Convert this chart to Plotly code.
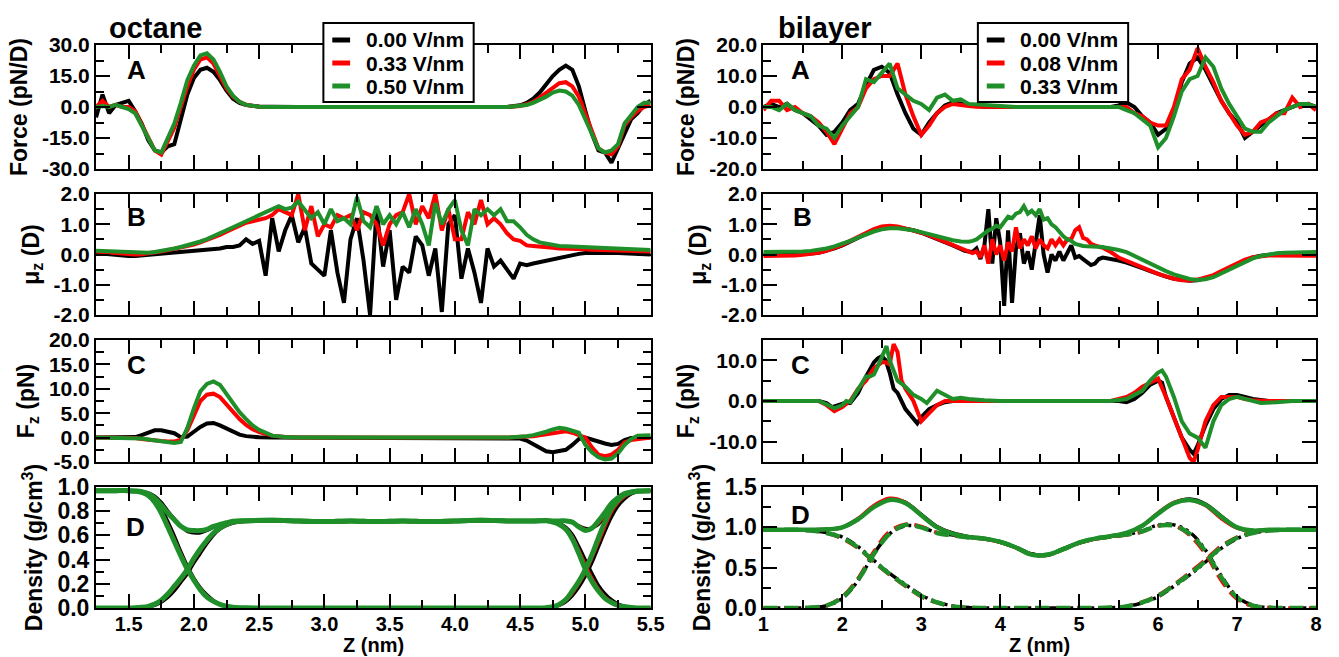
import numpy as np
import plotly.graph_objects as go

# ===================== DATA =====================
# ---- left column: octane ----
zA_L = [1.25,1.30,1.35,1.40,1.45,1.50,1.55,1.60,1.65,1.70,1.75,1.80,1.85,1.90,1.95,2.00,2.05,2.10,2.15,2.20,
        2.25,2.30,2.35,2.40,2.45,2.50,2.60,2.70,2.80,
        4.40,4.45,4.50,4.55,4.60,4.65,4.70,4.75,4.80,4.85,4.90,4.95,5.00,5.05,5.10,5.15,5.20,5.25,5.30,5.35,5.40,5.45,5.50]
forceL_000 = [-5,6,-3,1,2,3,-2,-8,-16,-21,-22,-19,-18,-6,6,14,18,19,17,13,8,4,2,1,0.5,0.2, 0.1,0,0,
              0,0.3,0.8,2,4,7,11,15,18,20,18,10,-2,-13,-21,-22,-27,-20,-12,-6,-3,1,3]
forceL_033 = [0,3,0,1,0,0,-2,-8,-15,-21,-23,-16,-10,0,10,18,23,24,21,15,9,5,2.5,1,0.4,0.1, 0.05,0,0,
              0,0.2,0.5,1.3,2.5,4.5,7,9.5,11.5,12,10,5,-3,-12,-20,-22,-23,-19,-9,-5,-2,0,1]
forceL_050 = [0,0.5,0,1,0,-1,-3,-9,-15,-21,-22,-15,-8,2,13,20,25,26,23,17,10,5.5,2.5,1,0.4,0.1, 0.05,0,0,
              0,0.2,0.4,1,2,3.3,5,7,8,7.5,5.5,1,-6,-14,-20,-22,-21,-18,-8,-4,0,2,2]

fzL_000 = [0,0,0,0,0,0,0.1,0.5,1.0,1.5,1.5,1.2,0.9,0.1,0.2,1.2,2.2,2.9,3.0,2.5,1.8,1.1,0.6,0.3,0.15,0.05, 0,0,0,
           0,0,-0.2,-0.6,-1.3,-2.2,-2.8,-3.0,-2.8,-2.5,-1.5,-0.3,0.0,-0.3,-0.8,-1.2,-1.5,-1.3,-0.5,-0.1,0,0,0]
fzL_033 = [0,0,0,0,0,0,-0.1,-0.3,-0.5,-0.6,-0.7,-0.8,-0.8,-0.5,1.5,4.5,7.5,8.8,9.0,8.3,6.8,5.2,3.8,2.6,1.7,1.1, 0.4,0.1,0,
           0,0,0.1,0.2,0.3,0.5,0.8,1.0,1.2,1.3,1.0,0.5,0.0,-2.0,-3.5,-3.8,-3.5,-2.5,-1.0,-0.5,-0.3,0,0]
fzL_050 = [0,0,0,0,0,0,0,-0.2,-0.4,-0.6,-0.8,-1.0,-1.1,-0.9,2.0,6.0,9.5,11.0,11.5,10.8,9.0,7.0,5.2,3.8,2.5,1.6, 0.4,0.1,0,
           0,0.05,0.1,0.3,0.5,0.8,1.2,1.7,2.0,1.8,1.5,1.0,-1.5,-3.0,-4.0,-4.5,-4.3,-3.2,-1.5,-0.3,0.4,0.5,0.5]

zB_L = np.round(np.linspace(1.25, 5.50, 86), 2)
muL_000 = [0.05,0.03,0.0,-0.03,-0.05,-0.05,-0.05,-0.03,-0.02,0.0,
           0.02,0.05,0.06,0.08,0.1,0.12,0.13,0.15,0.17,0.2,
           0.25,0.25,0.3,0.5,0.35,0.45,-0.7,1.2,0.1,0.8,
           1.3,0.4,0.9,-0.3,-0.5,-0.7,0.8,-0.6,-1.6,0.5,
           1.2,-0.2,-2.0,1.5,-0.4,0.8,-1.5,-0.4,-0.6,0.6,
           0.3,-0.7,0.2,-1.9,1.0,1.3,-0.8,0.2,-0.6,-1.6,
           0.2,-0.4,-0.2,-0.5,-0.8,-0.3,-0.35,-0.3,-0.25,-0.2,
           -0.15,-0.1,-0.05,0.0,0.02,0.05,0.06,0.07,0.07,0.06,
           0.05,0.04,0.03,0.02,0.01,0.0]
muL_033 = [0.1,0.08,0.06,0.04,0.02,0.01,0.0,0.01,0.03,0.06,
           0.1,0.14,0.18,0.23,0.28,0.33,0.4,0.48,0.55,0.65,
           0.75,0.85,0.95,1.05,1.1,1.15,1.2,1.3,1.5,1.4,
           1.3,2.0,0.8,1.6,0.6,1.0,0.9,1.3,1.2,1.3,
           0.8,1.4,1.3,1.0,0.3,1.0,1.3,1.4,2.0,1.0,
           1.6,1.2,2.0,0.8,1.5,0.5,0.5,1.4,1.0,1.8,
           1.0,1.2,1.0,0.7,0.5,0.45,0.3,0.28,0.25,0.23,
           0.22,0.2,0.2,0.2,0.18,0.17,0.16,0.15,0.15,0.14,
           0.13,0.12,0.11,0.1,0.1,0.1]
muL_050 = [0.12,0.11,0.1,0.08,0.07,0.06,0.05,0.05,0.06,0.08,
           0.11,0.15,0.2,0.25,0.3,0.36,0.43,0.51,0.6,0.7,
           0.8,0.9,1.0,1.1,1.2,1.3,1.4,1.5,1.6,1.5,
           1.55,1.75,1.5,1.2,1.4,1.0,1.5,1.1,1.2,1.0,
           1.9,1.1,0.9,1.6,1.0,1.3,1.0,1.4,0.9,1.5,
           1.0,0.3,1.7,1.0,1.5,1.8,0.8,0.3,1.5,1.3,
           1.5,1.3,1.5,1.1,1.1,0.9,0.65,0.5,0.4,0.35,
           0.3,0.28,0.27,0.26,0.25,0.25,0.24,0.23,0.22,0.21,
           0.2,0.19,0.18,0.17,0.16,0.15]

zD_L = [1.25,1.40,1.50,
        1.55,1.60,1.65,1.70,1.75,1.80,1.85,1.90,1.95,2.00,2.05,2.10,2.15,2.20,2.25,2.30,
        2.40,2.60,2.80,3.00,3.20,3.40,3.60,3.80,4.00,4.20,4.40,4.60,
        4.70,4.75,4.80,4.85,4.90,4.95,5.00,5.05,5.10,5.15,5.20,5.25,5.30,5.35,5.40,
        5.50]
waterL_000 = [0.97,0.97,0.97,
              0.967,0.96,0.945,0.905,0.83,0.72,0.6,0.47,0.35,0.25,0.17,0.11,0.065,0.035,0.018,0.008,
              0.002,0,0,0,0,0,0,0,0,0,0,0,
              0.002,0.006,0.02,0.05,0.1,0.17,0.26,0.37,0.5,0.63,0.75,0.84,0.9,0.94,0.96,
              0.97]
octL_000 = [0,0,0,
            0.001,0.003,0.008,0.02,0.045,0.085,0.14,0.21,0.28,0.37,0.45,0.53,0.6,0.65,0.68,0.70,
            0.715,0.72,0.715,0.71,0.715,0.715,0.72,0.71,0.715,0.72,0.715,0.715,
            0.72,0.715,0.70,0.67,0.61,0.51,0.4,0.29,0.19,0.12,0.07,0.035,0.016,0.006,0.002,
            0]
totL_000 = [0.97,0.97,0.97,
            0.968,0.963,0.953,0.925,0.875,0.805,0.74,0.68,0.63,0.62,0.62,0.64,0.665,0.685,0.698,0.708,
            0.717,0.72,0.715,0.71,0.715,0.715,0.72,0.71,0.715,0.72,0.715,0.715,
            0.722,0.721,0.72,0.72,0.71,0.68,0.66,0.66,0.69,0.75,0.82,0.875,0.916,0.946,0.962,
            0.97]
waterL_033 = [0.97,0.97,0.97,
              0.966,0.957,0.935,0.885,0.8,0.69,0.57,0.45,0.335,0.24,0.16,0.1,0.06,0.032,0.016,0.008,
              0.002,0,0,0,0,0,0,0,0,0,0,0,
              0.003,0.008,0.025,0.06,0.12,0.2,0.29,0.41,0.54,0.67,0.79,0.87,0.92,0.95,0.962,
              0.97]
octL_033 = [0,0,0,
            0.002,0.005,0.012,0.028,0.058,0.105,0.165,0.23,0.305,0.395,0.475,0.55,0.61,0.655,0.685,0.705,
            0.715,0.72,0.715,0.71,0.715,0.71,0.715,0.71,0.715,0.72,0.715,0.715,
            0.72,0.712,0.695,0.66,0.59,0.48,0.36,0.25,0.16,0.095,0.053,0.027,0.012,0.005,0.001,
            0]
totL_033 = [0.97,0.97,0.97,
            0.968,0.962,0.947,0.913,0.858,0.795,0.735,0.68,0.64,0.635,0.635,0.65,0.67,0.687,0.701,0.713,
            0.717,0.72,0.715,0.71,0.715,0.71,0.715,0.71,0.715,0.72,0.715,0.715,
            0.723,0.72,0.72,0.72,0.71,0.68,0.65,0.66,0.7,0.765,0.843,0.897,0.932,0.955,0.963,
            0.97]
waterL_050 = [0.97,0.97,0.97,
              0.965,0.955,0.93,0.875,0.785,0.67,0.55,0.43,0.32,0.23,0.15,0.09,0.055,0.03,0.015,0.007,
              0.002,0,0,0,0,0,0,0,0,0,0,0,
              0.003,0.01,0.03,0.07,0.14,0.22,0.32,0.44,0.58,0.71,0.82,0.89,0.935,0.955,0.965,
              0.97]
octL_050 = [0,0,0,
            0.002,0.006,0.014,0.032,0.065,0.115,0.18,0.245,0.32,0.41,0.49,0.56,0.62,0.66,0.69,0.71,
            0.72,0.725,0.72,0.715,0.72,0.715,0.72,0.715,0.72,0.725,0.72,0.72,
            0.72,0.71,0.69,0.65,0.57,0.45,0.32,0.22,0.14,0.08,0.045,0.022,0.01,0.004,0.001,
            0]
totL_050 = [0.97,0.97,0.97,
            0.967,0.961,0.944,0.907,0.85,0.785,0.73,0.675,0.645,0.64,0.64,0.65,0.675,0.69,0.705,0.717,
            0.722,0.725,0.72,0.715,0.72,0.715,0.72,0.715,0.72,0.725,0.72,0.72,
            0.723,0.72,0.72,0.72,0.71,0.67,0.64,0.66,0.72,0.79,0.865,0.912,0.945,0.959,0.966,
            0.97]

# ---- right column: bilayer ----
zA_R = np.round(np.linspace(1.0, 8.0, 71), 2)
forceR_000 = [0,1,0,1,-1,-2,-4,-6,-9,-8,
              -5,-1,1,7,12,13,11,4,-2,-7,
              -9,-5,-2,0.5,1.5,1,0.5,0.3,0.1,0,
              0,0,0,0,0,0,0,0,0,0,
              0,0,0,0,0,0.5,1.5,0,-3,-5,
              -9,-7,-1,8,14,16,12,7,2,-2,
              -5,-10,-8,-6,-4,-2,-1,0,1,1,
              0]
forceR_008 = [-1,2,2,-1,0,-2,-3,-5,-8,-12,
              -7,-2,0,6,9,10,10,14,4,-3,
              -9,-6,-2,0,1,0.5,0.3,0.1,0,0,
              0,0,0,0,0,0,0,0,0,0,
              0,0,0,0,0,0,0,-2,-3,-5,
              -6,-6,0,9,12,19,13,8,2,-2,
              -6,-9,-8,-5,-4,-2,-2,3,0,1,
              -1]
forceR_033 = [0,0,-1,1,-1,-2,-3,-6,-7,-10,
              -6,-3,0,9,8,11,14,6,4,2,
              1,-1,3,4,2,2.5,1,0.8,0.5,0.3,
              0.2,0.1,0,0,0,0,0,0,0,0,
              0,0,0,0,0,0,-1,-2,-4,-6,
              -13,-10,-3,5,9,10,16,13,6,1,
              -3,-7,-8,-8,-5,-3,-1,0,1,1,
              0]

zB_R = np.round(np.concatenate([np.linspace(1.0, 3.5, 26), np.linspace(3.55, 5.40, 38),
                                np.linspace(5.5, 8.0, 26)]), 2)
muR_000 = [0.0,0.0,0.0,0.0,0.0,0.01,0.03,0.06,0.12,0.2,
           0.3,0.42,0.55,0.68,0.8,0.88,0.92,0.9,0.86,0.8,
           0.72,0.62,0.5,0.4,0.3,0.18,
           0.12,0.1,0.08,0.2,-0.15,0.3,1.5,-0.3,1.2,0.4,
           -1.7,0.8,-1.6,0.2,0.7,-0.3,0.1,-0.5,0.3,1.3,
           0.0,-0.6,0.0,-0.2,0.1,-0.2,0.05,0.3,-0.1,-0.05,
           -0.15,-0.25,-0.35,-0.3,-0.15,-0.1,-0.12,-0.15,
           -0.2,-0.27,-0.35,-0.45,-0.55,
           -0.65,-0.73,-0.8,-0.85,-0.87,-0.85,-0.8,-0.72,-0.6,-0.47,
           -0.33,-0.2,-0.1,-0.04,0.0,0.02,0.03,0.03,0.03,0.03,0.03]
muR_008 = [-0.05,-0.05,-0.05,-0.04,-0.03,-0.01,0.02,0.06,0.12,0.21,
           0.32,0.45,0.58,0.72,0.84,0.93,0.95,0.93,0.87,0.8,
           0.72,0.63,0.52,0.42,0.33,0.22,
           0.15,0.08,0.05,0.1,-0.1,0.3,-0.3,0.5,0.0,0.3,
           -0.2,0.4,0.1,0.9,0.2,0.5,0.3,0.6,0.2,0.5,
           0.3,0.2,0.5,0.3,0.5,0.3,0.5,0.5,0.8,0.9,
           0.55,0.5,0.35,0.3,0.27,0.22,0.15,0.08,
           -0.1,-0.2,-0.3,-0.42,-0.53,
           -0.64,-0.73,-0.8,-0.85,-0.86,-0.83,-0.77,-0.68,-0.55,-0.42,
           -0.28,-0.17,-0.09,-0.05,-0.03,-0.03,-0.04,-0.04,-0.04,-0.04,-0.04]
muR_033 = [0.08,0.08,0.08,0.08,0.09,0.1,0.12,0.15,0.2,0.27,
           0.35,0.45,0.56,0.67,0.76,0.83,0.87,0.87,0.84,0.8,
           0.74,0.67,0.6,0.53,0.47,0.43,
           0.42,0.42,0.45,0.5,0.6,0.7,0.8,0.85,0.95,0.9,
           1.1,1.25,1.2,1.35,1.4,1.6,1.35,1.45,1.3,1.5,
           1.15,1.2,1.0,0.9,0.75,0.6,0.5,0.45,0.35,0.3,
           0.28,0.27,0.27,0.27,0.26,0.25,0.22,0.2,
           0.15,0.08,-0.05,-0.18,-0.3,
           -0.42,-0.55,-0.66,-0.75,-0.81,-0.84,-0.82,-0.75,-0.63,-0.5,
           -0.37,-0.24,-0.13,-0.05,0.01,0.04,0.06,0.07,0.08,0.08,0.08]

zC_R_000 = [1.0,1.7,1.8,1.87,1.95,2.03,2.1,2.2,2.3,2.4,2.45,2.5,2.55,2.6,2.65,2.7,
            2.8,2.9,2.95,3.0,3.1,3.2,3.3,3.4,3.6,
            5.5,5.6,5.7,5.8,5.9,6.0,6.05,6.1,
            6.2,6.3,6.4,6.45,6.5,6.6,6.7,6.8,6.9,7.0,7.1,7.2,7.4,8.0]
fzR_000 = [0,0,-0.5,-1.5,-1.0,-0.5,-0.5,2,6,9.5,10.5,11,10,7,3,2,
           -2,-4.5,-5.5,-4,-2,-1,-0.3,0,0,
           0,-0.3,0.5,2,4,5,4.5,1,
           -4,-9,-12,-13,-11,-6,-2,0.5,1.5,1.5,1,0.5,0,0]
zC_R_008 = [1.0,1.7,1.8,1.9,2.0,2.1,2.2,2.3,2.4,2.5,2.55,2.6,2.65,2.7,2.75,2.8,
            2.9,3.0,3.1,3.2,3.3,3.5,
            5.4,5.5,5.6,5.7,5.8,5.9,6.0,6.1,
            6.2,6.3,6.4,6.45,6.5,6.6,6.7,6.8,7.0,7.1,7.2,7.4,8.0]
fzR_008 = [0,0,-1,-2.5,-1.5,0,3,5,8,9.5,9.5,9,14,12,5,3,
           0,-5,-3,-1,0,0,
           0,0.5,1,2,3.5,4.5,5.5,1,
           -4,-9,-14,-15,-12,-5,-1,1,1,0.5,0.2,0,0]
zC_R_033 = [1.0,1.7,1.8,1.9,2.0,2.05,2.1,2.2,2.3,2.35,2.4,2.45,2.5,2.56,2.6,2.7,2.8,
            2.9,3.0,3.07,3.2,3.3,3.4,3.5,3.6,3.8,4.0,
            5.4,5.5,5.6,5.7,5.8,5.9,6.0,6.05,6.1,
            6.2,6.3,6.4,6.5,6.6,6.7,6.8,6.9,7.0,7.1,7.2,7.3,7.5,7.7,8.0]
fzR_033 = [0,0,-0.8,-1.8,-1.0,0,-0.3,3,6,6,6.5,8.5,11,13.5,10,5,3.5,
           1.5,0.5,-0.5,2.5,1.5,0.5,0.8,0.5,0.2,0,
           0,0.2,0.5,1.5,2.5,5,7,7.5,6,
           1,-5,-8,-9,-11.5,-5,-1,0.5,1,0.5,0,-0.5,-0.3,0,0]

zD_R = np.round(np.linspace(1.0, 8.0, 36), 2)
totR_000 = [0.97,0.97,0.97,0.97,0.975, 1.0,1.1,1.26,1.35,1.31, 1.16,1.01,0.93,0.885,0.86,
            0.82,0.75,0.67,0.66,0.735, 0.81,0.86,0.89,0.93,1.02, 1.17,1.3,1.35,1.29,1.14,
            1.0,0.96,0.97,0.97,0.97,0.97]
waterR_000 = [0.97,0.97,0.97,0.96,0.935, 0.88,0.76,0.59,0.43,0.29, 0.16,0.075,0.025,0.006,0,
              0,0,0,0,0, 0,0,0.004,0.018,0.065, 0.14,0.27,0.41,0.57,0.74,
              0.86,0.93,0.96,0.97,0.97,0.97]
lipidR_000 = [0,0,0,0.004,0.028, 0.12,0.34,0.67,0.92,1.02, 1.0,0.935,0.905,0.88,0.86,
              0.82,0.75,0.67,0.66,0.735, 0.81,0.86,0.886,0.912,0.955, 1.03,1.03,0.94,0.72,0.4,
              0.14,0.035,0.006,0,0,0]
totR_008 = [0.97,0.97,0.97,0.97,0.975, 1.0,1.11,1.27,1.36,1.31, 1.15,1.0,0.92,0.88,0.855,
            0.815,0.745,0.665,0.655,0.73, 0.805,0.855,0.885,0.925,1.02, 1.18,1.31,1.34,1.27,1.11,
            0.99,0.955,0.965,0.97,0.97,0.97]
waterR_008 = [0.97,0.97,0.97,0.96,0.93, 0.86,0.74,0.57,0.41,0.27, 0.14,0.065,0.02,0.005,0,
              0,0,0,0,0, 0,0,0.005,0.02,0.075, 0.16,0.29,0.44,0.6,0.77,
              0.88,0.94,0.96,0.97,0.97,0.97]
lipidR_008 = [0,0,0,0.005,0.03, 0.14,0.37,0.7,0.95,1.04, 1.01,0.935,0.9,0.875,0.855,
              0.815,0.745,0.665,0.655,0.73, 0.805,0.855,0.88,0.905,0.945, 1.02,1.02,0.9,0.67,0.34,
              0.11,0.02,0.005,0,0,0]
totR_033 = [0.97,0.97,0.97,0.97,0.975, 1.0,1.1,1.25,1.34,1.3, 1.15,1.0,0.92,0.88,0.86,
            0.82,0.75,0.66,0.66,0.73, 0.81,0.86,0.89,0.93,1.02, 1.17,1.3,1.34,1.28,1.13,
            1.0,0.96,0.97,0.97,0.97,0.97]
waterR_033 = [0.97,0.97,0.97,0.96,0.93, 0.87,0.75,0.58,0.42,0.28, 0.15,0.07,0.02,0.005,0,
              0,0,0,0,0, 0,0,0.005,0.02,0.07, 0.15,0.28,0.42,0.58,0.75,
              0.87,0.93,0.96,0.97,0.97,0.97]
lipidR_033 = [0,0,0,0.005,0.03, 0.13,0.35,0.67,0.92,1.03, 1.0,0.93,0.9,0.875,0.86,
              0.82,0.75,0.66,0.66,0.73, 0.81,0.86,0.885,0.91,0.95, 1.02,1.02,0.92,0.7,0.38,
              0.13,0.03,0.005,0,0,0]

# ---- legends / ticks ----
fields_L = ["0.00 V/nm", "0.33 V/nm", "0.50 V/nm"]
fields_R = ["0.00 V/nm", "0.08 V/nm", "0.33 V/nm"]
xticks_L = [1.5, 2.0, 2.5, 3.0, 3.5, 4.0, 4.5, 5.0, 5.5]
xtext_L = ["1.5", "2.0", "2.5", "3.0", "3.5", "4.0", "4.5", "5.0", "5.5"]
xticks_R = [1, 2, 3, 4, 5, 6, 7, 8]
xtext_R = ["1", "2", "3", "4", "5", "6", "7", "8"]
yt_forceL = [-30, -15, 0, 15, 30]; ytx_forceL = ["-30.0", "-15.0", "0.0", "15.0", "30.0"]
yt_mu = [-2, -1, 0, 1, 2]; ytx_mu = ["-2.0", "-1.0", "0.0", "1.0", "2.0"]
yt_fzL = [-5, 0, 5, 10, 15, 20]; ytx_fzL = ["-5.0", "0.0", "5.0", "10.0", "15.0", "20.0"]
yt_densL = [0, 0.2, 0.4, 0.6, 0.8, 1.0]; ytx_densL = ["0.0", "0.2", "0.4", "0.6", "0.8", "1.0"]
yt_forceR = [-20, -10, 0, 10, 20]; ytx_forceR = ["-20.0", "-10.0", "0.0", "10.0", "20.0"]
yt_fzR = [-10, 0, 10]; ytx_fzR = ["-10.0", "0.0", "10.0"]
yt_densR = [0, 0.5, 1.0, 1.5]; ytx_densR = ["0.0", "0.5", "1.0", "1.5"]

# ===================== STYLE / LAYOUT =====================
W, H = 1339, 657
ML, MR, MT, MB = 96, 9, 45, 49
PW, PH = W - ML - MR, H - MT - MB
def px(x): return (x - ML) / PW
def py(y): return (H - MB - y) / PH

FONT = "Liberation Sans, Arial, sans-serif"
COL = ["#000000", "#ff0000", "#1f8f2a"]
rows_px = [(45, 169), (194, 315), (340, 462), (487, 608)]
cols_px = [(96, 657), (771, 1330)]

fig = go.Figure()

def ax_id(c, r):
    return c * 4 + r + 1

def add(c, r, x, y, color, width=4, dash=None, shape="linear", name=None):
    n = ax_id(c, r)
    fig.add_trace(go.Scatter(
        x=list(x), y=list(y), mode="lines", name=name,
        line=dict(color=color, width=width, dash=dash, shape=shape),
        xaxis="x" if n == 1 else f"x{n}", yaxis="y" if n == 1 else f"y{n}",
        showlegend=False, hoverinfo="skip"))

# left column
for i, ys in enumerate([forceL_000, forceL_033, forceL_050]):
    add(0, 0, zA_L, ys, COL[i], name=fields_L[i])
for i, ys in enumerate([muL_000, muL_033, muL_050]):
    add(0, 1, zB_L, ys, COL[i], name=fields_L[i])
for i, ys in enumerate([fzL_000, fzL_033, fzL_050]):
    add(0, 2, zA_L, ys, COL[i], name=fields_L[i])
for i, (w, o, t) in enumerate([(waterL_000, octL_000, totL_000), (waterL_033, octL_033, totL_033),
                               (waterL_050, octL_050, totL_050)]):
    lw = 5 if i == 2 else 3
    for ys in (w, o, t):
        add(0, 3, zD_L, ys, COL[i], width=lw, shape="spline", name=fields_L[i])

# right column
for i, ys in enumerate([forceR_000, forceR_008, forceR_033]):
    add(1, 0, zA_R, ys, COL[i], name=fields_R[i])
for i, ys in enumerate([muR_000, muR_008, muR_033]):
    add(1, 1, zB_R, ys, COL[i], name=fields_R[i])
for i, (zz, ys) in enumerate([(zC_R_000, fzR_000), (zC_R_008, fzR_008), (zC_R_033, fzR_033)]):
    add(1, 2, zz, ys, COL[i], name=fields_R[i])
dashes = ["10px,4px,3px,4px,3px,4px", "14px,7px", "14px,7px"]
for i, (w, l, t) in enumerate([(waterR_000, lipidR_000, totR_000), (waterR_008, lipidR_008, totR_008),
                               (waterR_033, lipidR_033, totR_033)]):
    lw = 4.5 if i == 2 else 3.5
    add(1, 3, zD_R, w, COL[i], width=lw, dash=dashes[i], shape="spline", name=fields_R[i])
    add(1, 3, zD_R, l, COL[i], width=lw, dash=dashes[i], shape="spline", name=fields_R[i])
    add(1, 3, zD_R, t, COL[i], width=lw, shape="spline", name=fields_R[i])

tickfont = dict(family=FONT, size=21, color="black", weight="bold")
tickfontD = dict(family=FONT, size=23, color="black", weight="bold")
xtickfont = dict(family=FONT, size=20, color="black", weight="bold")
titlefont = dict(family=FONT, size=23, color="black", weight="bold")

yspecs = {
    (0, 0): ([-30, 30], yt_forceL, ytx_forceL, 7.5, "Force (pN/D)"),
    (0, 1): ([-2, 2], yt_mu, ytx_mu, 0.5, "μ<sub>z</sub> (D)"),
    (0, 2): ([-5, 20], yt_fzL, ytx_fzL, 2.5, "F<sub>z</sub> (pN)"),
    (0, 3): ([0, 1], yt_densL, ytx_densL, 0.1, "Density (g/cm<sup>3</sup>)"),
    (1, 0): ([-20, 20], yt_forceR, ytx_forceR, 5, "Force (pN/D)"),
    (1, 1): ([-2, 2], yt_mu, ytx_mu, 0.5, "μ<sub>z</sub> (D)"),
    (1, 2): ([-15, 15], yt_fzR, ytx_fzR, 5, "F<sub>z</sub> (pN)"),
    (1, 3): ([0, 1.5], yt_densR, ytx_densR, 0.25, "Density (g/cm<sup>3</sup>)"),
}

def clip01(v):
    return min(1.0, max(0.0, v))

layout = {}
for c in range(2):
    for r in range(4):
        n = ax_id(c, r)
        xd = [clip01(px(cols_px[c][0])), clip01(px(cols_px[c][1]))]
        yd = [clip01(py(rows_px[r][1])), clip01(py(rows_px[r][0]))]
        xr = [1.25, 5.5] if c == 0 else [1.0, 8.0]
        xt, xtx = (xticks_L, xtext_L) if c == 0 else (xticks_R, xtext_R)
        xminor = np.arange(1.25, 5.51, 0.25) if c == 0 else np.arange(1.0, 8.01, 0.5)
        yr, yt, ytx, ym, ytitle = yspecs[(c, r)]
        yminor = np.arange(yr[0], yr[1] + 1e-9, ym)
        bottom = (r == 3)
        common = dict(showline=True, linewidth=2, linecolor="black", mirror="ticks",
                      ticks="inside", ticklen=14, tickwidth=2, tickcolor="black",
                      showgrid=False, zeroline=False, fixedrange=True)
        layout["xaxis" if n == 1 else f"xaxis{n}"] = dict(
            domain=xd, range=xr, anchor="y" if n == 1 else f"y{n}",
            tickmode="array", tickvals=xt, ticktext=xtx, showticklabels=bottom,
            tickfont=xtickfont, ticklabelstandoff=-3,
            minor=dict(tickmode="array", tickvals=list(np.round(xminor, 3)), ticklen=8,
                       tickwidth=2, tickcolor="black", ticks="inside"),
            **common)
        layout["yaxis" if n == 1 else f"yaxis{n}"] = dict(
            domain=yd, range=yr, anchor="x" if n == 1 else f"x{n}",
            tickmode="array", tickvals=yt, ticktext=ytx,
            tickfont=tickfontD if bottom else tickfont,
            minor=dict(tickmode="array", tickvals=list(np.round(yminor, 3)), ticklen=8,
                       tickwidth=2, tickcolor="black", ticks="inside"),
            title=dict(text=ytitle, font=titlefont, standoff=8),
            **common)

ann = []
for txt, (x, y) in [("octane", (156, 28)), ("bilayer", (833, 28))]:
    ann.append(dict(text=txt, x=px(x), y=py(y), xref="paper", yref="paper", showarrow=False,
                    xanchor="center", yanchor="middle",
                    font=dict(family=FONT, size=29, color="black", weight="bold")))
for c in range(2):
    ann.append(dict(text="Z (nm)", x=px((cols_px[c][0] + cols_px[c][1]) / 2), y=py(645),
                    xref="paper", yref="paper", showarrow=False, xanchor="center", yanchor="middle",
                    font=dict(family=FONT, size=20, color="black", weight="bold")))
letters = [("A", 137, 70), ("B", 137, 217), ("C", 137, 365), ("D", 136, 527),
           ("A", 809, 70), ("B", 811, 217), ("C", 809, 365), ("D", 809, 515)]
for txt, x, y in letters:
    ann.append(dict(text=txt, x=px(x), y=py(y), xref="paper", yref="paper", showarrow=False,
                    xanchor="center", yanchor="middle",
                    font=dict(family=FONT, size=26, color="black", weight="bold")))

# hand-built legend boxes (box, short line samples, labels)
shapes = []
for x0, names in [(326, fields_L), (988, fields_R)]:
    shapes.append(dict(type="rect", xref="paper", yref="paper", layer="above",
                       x0=px(x0), x1=px(x0 + 152), y0=py(102), y1=py(23),
                       fillcolor="white", line=dict(color="black", width=2)))
    for k, nm in enumerate(names):
        yy = 40 + 23 * k
        shapes.append(dict(type="line", xref="paper", yref="paper", layer="above",
                           x0=px(x0 + 9), x1=px(x0 + 27), y0=py(yy), y1=py(yy),
                           line=dict(color=COL[k], width=5)))
        ann.append(dict(text=nm, x=px(x0 + 41), y=py(yy), xref="paper", yref="paper",
                        showarrow=False, xanchor="left", yanchor="middle",
                        font=dict(family=FONT, size=21, color="black", weight="bold")))

fig.update_layout(
    width=W, height=H, margin=dict(l=ML, r=MR, t=MT, b=MB),
    paper_bgcolor="white", plot_bgcolor="white",
    font=dict(family=FONT, color="black"),
    showlegend=False,
    annotations=ann, shapes=shapes,
    **layout)

# remove the page's default body margin so the figure sits at the window origin; hide the modebar
fig.write_html("out.html", config={"displayModeBar": False},
               post_script="document.body.style.margin='0';document.body.style.overflow='hidden';")
